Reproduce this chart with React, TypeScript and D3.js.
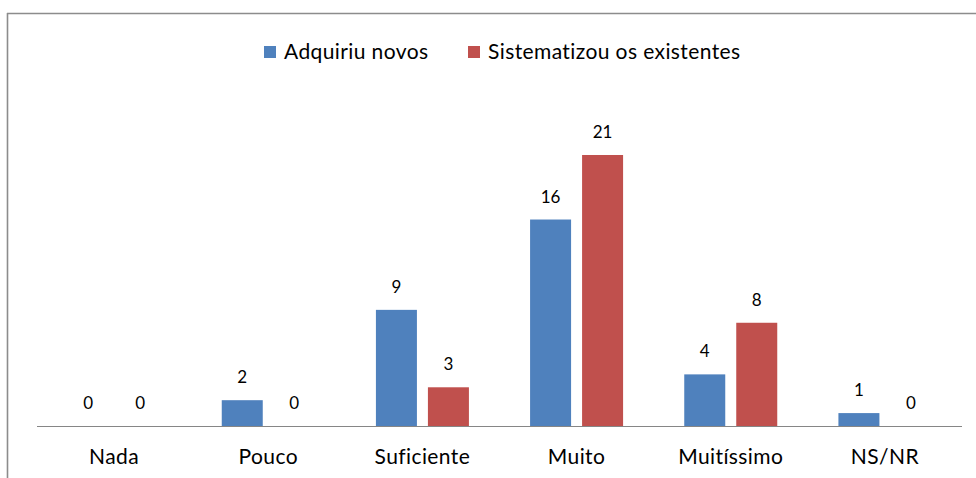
import React from "react";
import * as d3 from "d3";

const categories = ["Nada", "Pouco", "Suficiente", "Muito", "Muitíssimo", "NS/NR"];
const seriesNames = ["Adquiriu novos", "Sistematizou os existentes"];
const adquiriu = [0, 2, 9, 16, 4, 1];
const sistematizou = [0, 0, 3, 21, 8, 0];
const colors = ["#4F81BD", "#C0504D"];

const W = 976;
const H = 478;
const plotLeft = 37;
const plotRight = 962;
const baseY = 426;
const FONT = "Lato, 'Noto Sans', sans-serif";

export default function App() {
  const x = d3.scaleBand<string>().domain(categories).range([plotLeft, plotRight]).padding(0);
  const y = d3.scaleLinear().domain([0, 25]).range([baseY, baseY - 25 * 12.905]);
  const barW = 41;
  const gap = 11;
  const series = [adquiriu, sistematizou];

  return (
    <svg width={W} height={H} style={{ position: "absolute", left: 0, top: 0, background: "#fff" }} fontFamily={FONT}>
      <rect x={0} y={0} width={W} height={H} fill="#fff" />
      <line x1={7} x2={W} y1={13.5} y2={13.5} stroke="#8c8c8c" strokeWidth={1.6} />
      <line x1={7.5} x2={7.5} y1={13} y2={H} stroke="#8c8c8c" strokeWidth={1.6} />

      {/* legend */}
      <rect x={264} y={46} width={12} height={12} fill={colors[0]} />
      <text x={284} y={59} fontSize={21} letterSpacing={0.4} fill="#000">{seriesNames[0]}</text>
      <rect x={468} y={46} width={12} height={12} fill={colors[1]} />
      <text x={488} y={59} fontSize={21} letterSpacing={0.4} fill="#000">{seriesNames[1]}</text>

      {categories.map((c, i) => {
        const center = (x(c) as number) + x.bandwidth() / 2;
        return (
          <g key={c}>
            {series.map((s, si) => {
              const bx = si === 0 ? center - gap / 2 - barW : center + gap / 2;
              const v = s[i];
              return (
                <g key={si}>
                  {v > 0 && (
                    <rect x={bx} y={y(v)} width={barW} height={baseY - y(v)} fill={colors[si]} />
                  )}
                  <text x={bx + barW / 2} y={y(v) - 17} textAnchor="middle" fontSize={17} fill="#000">
                    {v}
                  </text>
                </g>
              );
            })}
            <text x={center} y={464} textAnchor="middle" fontSize={21} letterSpacing={0.4} fill="#000">{c}</text>
          </g>
        );
      })}
      <line x1={plotLeft} x2={plotRight} y1={baseY + 0.5} y2={baseY + 0.5} stroke="#868686" strokeWidth={1} />
    </svg>
  );
}
